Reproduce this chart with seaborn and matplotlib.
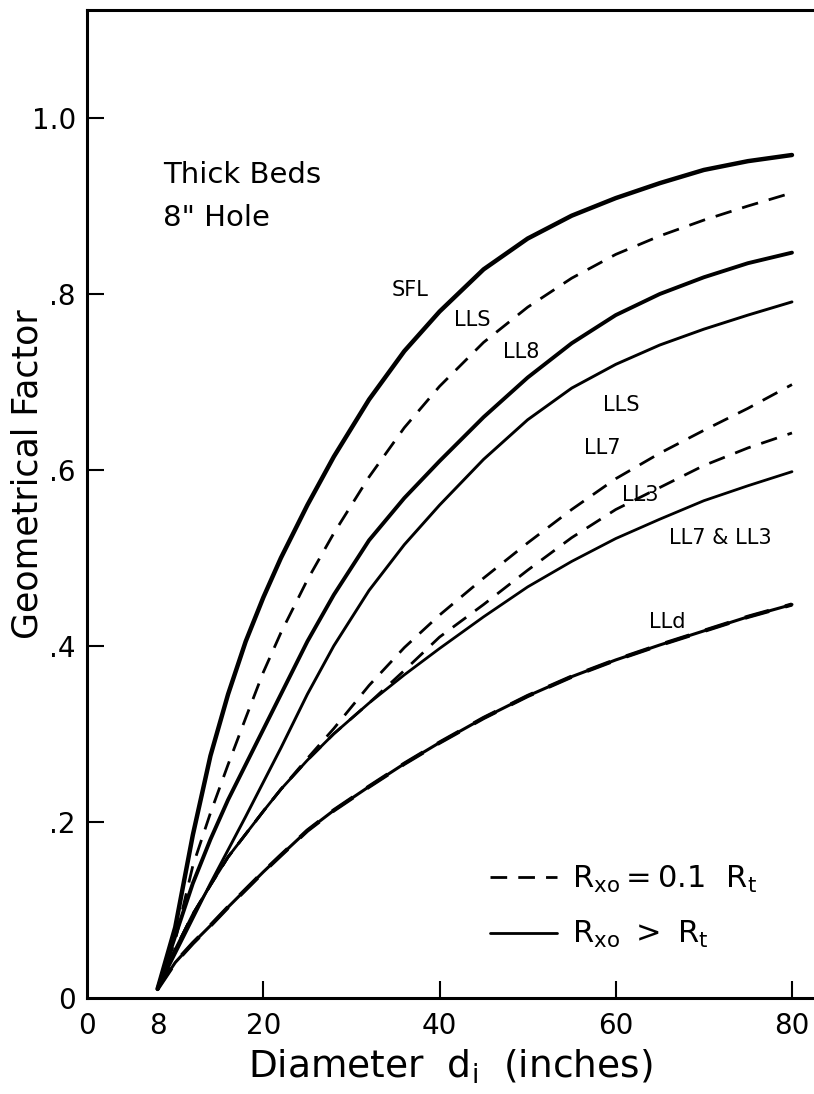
import numpy as np
import pandas as pd
import seaborn as sns
import matplotlib.pyplot as plt
from matplotlib.lines import Line2D

# diameter of invasion (inches)
diameter = [8, 10, 12, 14, 16, 18, 20, 22, 25, 28, 32, 36, 40, 45, 50, 55, 60, 65, 70, 75, 80]

# geometrical factor curves
sfl = [0.01, 0.08, 0.185, 0.275, 0.345, 0.405, 0.455, 0.50, 0.56, 0.615, 0.68, 0.735, 0.78, 0.828, 0.863, 0.889, 0.909, 0.926, 0.941, 0.951, 0.958]
lls_dashed = [0.01, 0.065, 0.15, 0.21, 0.265, 0.318, 0.37, 0.415, 0.475, 0.528, 0.592, 0.648, 0.695, 0.745, 0.785, 0.818, 0.845, 0.866, 0.884, 0.90, 0.915]
ll8 = [0.01, 0.07, 0.13, 0.18, 0.225, 0.265, 0.305, 0.345, 0.405, 0.458, 0.52, 0.568, 0.61, 0.66, 0.705, 0.744, 0.776, 0.80, 0.819, 0.835, 0.847]
lls_solid = [0.01, 0.05, 0.09, 0.13, 0.168, 0.206, 0.245, 0.284, 0.345, 0.40, 0.463, 0.515, 0.56, 0.612, 0.657, 0.693, 0.72, 0.742, 0.76, 0.776, 0.791]
ll7_dashed = [0.01, 0.055, 0.095, 0.128, 0.16, 0.186, 0.212, 0.237, 0.272, 0.306, 0.355, 0.398, 0.435, 0.477, 0.517, 0.555, 0.59, 0.619, 0.645, 0.67, 0.697]
ll3_dashed = [0.01, 0.055, 0.095, 0.128, 0.16, 0.186, 0.212, 0.237, 0.27, 0.30, 0.335, 0.372, 0.41, 0.447, 0.486, 0.523, 0.555, 0.58, 0.605, 0.625, 0.642]
ll7_ll3 = [0.01, 0.055, 0.095, 0.128, 0.16, 0.186, 0.212, 0.237, 0.27, 0.30, 0.335, 0.367, 0.397, 0.433, 0.467, 0.496, 0.522, 0.544, 0.565, 0.582, 0.598]
lld = [0.01, 0.04, 0.062, 0.082, 0.103, 0.123, 0.143, 0.162, 0.19, 0.213, 0.24, 0.266, 0.29, 0.318, 0.343, 0.365, 0.384, 0.401, 0.417, 0.433, 0.447]

curve_labels = ["SFL", "LLS", "LL8", "LLS", "LL7", "LL3", "LL7 & LL3", "LLd"]
label_x = [36.7, 43.7, 49.3, 60.6, 58.5, 62.8, 71.9, 65.9]
label_y = [0.805, 0.77, 0.734, 0.674, 0.625, 0.572, 0.523, 0.427]

sns.set_style("ticks")
plt.rcParams['font.family'] = ['DejaVu Sans']
for key in ("text.color", "axes.labelcolor", "xtick.color", "ytick.color", "axes.edgecolor"):
    plt.rcParams[key] = "black"

fig = plt.figure(figsize=(8.14, 10.94), dpi=100)
ax = fig.add_axes([0.107, 0.088, 0.893, 0.903])

dash = (0, (6, 4))
series = [
    (sfl, "-", 3.2),
    (lls_dashed, dash, 2.0),
    (ll8, "-", 2.8),
    (lls_solid, "-", 2.1),
    (ll7_ll3, "-", 2.0),
    (ll7_dashed, dash, 2.0),
    (ll3_dashed, dash, 2.0),
    (lld, "-", 2.2),
    (lld, dash, 3.0),
]
for vals, ls, lw in series:
    sns.lineplot(x=diameter, y=vals, ax=ax, color="black", linewidth=lw,
                 linestyle=ls, legend=False)

for t, x, y in zip(curve_labels, label_x, label_y):
    ax.text(x, y, t, fontsize=15, ha="center", va="center")

ax.text(8.6, 0.935, "Thick Beds", fontsize=21, ha="left", va="center")
ax.text(8.6, 0.886, "8\" Hole", fontsize=21, ha="left", va="center")

ax.set_xlim(0, 82.5)
ax.set_ylim(0, 1.123)
ax.set_xticks([0, 8, 20, 40, 60, 80])
ax.set_xticklabels(["0", "8", "20", "40", "60", "80"])
ax.set_yticks([0, 0.2, 0.4, 0.6, 0.8, 1.0])
ax.set_yticklabels(["0", ".2", ".4", ".6", ".8", "1.0"])
ax.tick_params(axis="both", direction="in", length=12, width=1.5, labelsize=20)
ax.tick_params(axis="x", pad=10)
ax.tick_params(axis="y", pad=8)
for i in (0, 1):
    ax.xaxis.get_major_ticks()[i].tick1line.set_visible(False)
ax.yaxis.get_major_ticks()[0].tick1line.set_visible(False)

ax.set_xlabel(r"Diameter  d$_\mathregular{i}$  (inches)", fontsize=27, labelpad=6)
ax.set_ylabel("Geometrical Factor", fontsize=25)
ax.yaxis.set_label_coords(-0.058, 0.53)

for side in ("left", "bottom", "top"):
    ax.spines[side].set_linewidth(2.2)
ax.spines["right"].set_visible(False)

handles = [
    Line2D([], [], color="black", linestyle=dash, linewidth=2.0),
    Line2D([], [], color="black", linestyle="-", linewidth=2.0),
]
ax.legend(handles, [r"$\mathregular{R_{xo}=0.1\ \ R_t}$", r"$\mathregular{R_{xo}\ >\ R_t}$"],
          loc="lower right", bbox_to_anchor=(0.96, 0.02), frameon=False,
          fontsize=22, handlelength=2.2, labelspacing=0.8, handletextpad=0.5)

fig.savefig("out.png", dpi=100)
